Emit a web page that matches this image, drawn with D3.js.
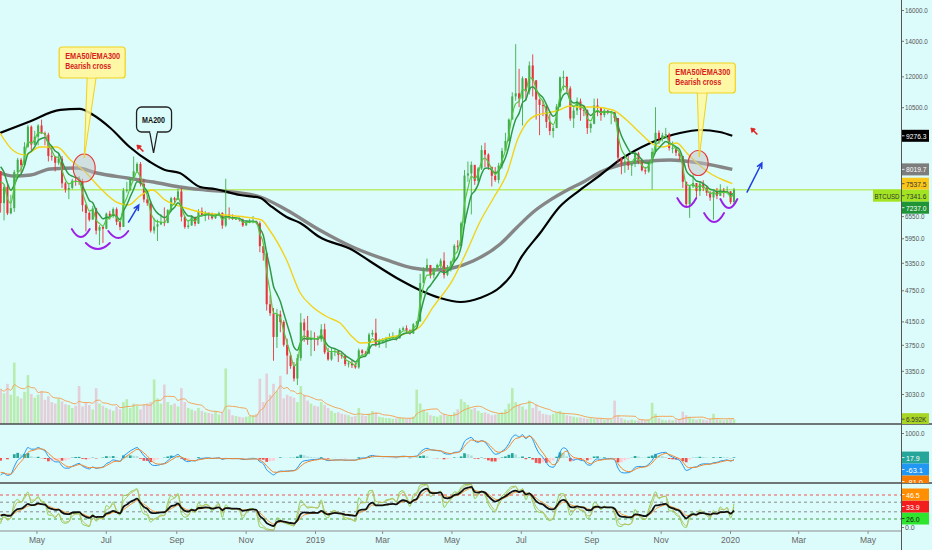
<!DOCTYPE html>
<html><head><meta charset="utf-8">
<script src="https://cdn.jsdelivr.net/npm/d3@7"></script>
<style>html,body{margin:0;padding:0;background:#dcfcfc;}svg{display:block;}</style>
</head><body>
<svg id="c" width="932" height="550"></svg>
<script>
// ---------------- DATA ----------------
const startDate = "2018-03-29";   // first 3-day candle
const stepDays = 3;
const firstOpen = 7960;
const closes = [6930,7430,6630,6780,7930,8360,8170,8850,9650,8930,9240,9700,9380,9320,8500,8470,8250,8400,7550,7350,
7400,7640,7630,7620,6870,6640,6450,6770,6150,6250,6200,6620,6550,6750,6390,6250,7320,7340,7720,7950,
8210,7530,7040,6930,6150,6260,6320,6380,6360,6720,7080,7030,7290,6530,6250,6290,6520,6340,6700,6580,
6650,6620,6490,6590,6640,6290,6590,6500,6470,6480,6450,6290,6360,6400,6400,6350,5750,5580,4470,4300,
3880,4280,4140,3750,3580,3420,3240,3540,4130,3990,3830,3860,3850,3840,4010,3630,3520,3630,3650,3590,
3570,3450,3460,3430,3400,3660,3620,3610,3920,3950,3750,3820,3820,3860,3870,3880,3860,4000,4030,3990,
3940,4100,4150,4900,5200,5300,5070,5220,5300,5400,5080,5220,5380,5760,5750,6350,7810,7880,8180,7630,
8050,8720,8550,8110,7800,7660,8150,8690,9070,9950,11000,11150,10900,11900,11250,12580,11800,10850,10600,10550,
9850,9470,9590,10530,11950,11970,11390,10000,10350,10770,10380,10360,9590,9770,10580,10480,10150,10350,10260,10280,
10020,8440,8210,8300,8150,8210,8590,8280,7990,7950,8230,8650,9400,9150,9300,9340,8800,8800,8620,8500,
7600,6900,7450,7560,7300,7540,7400,7250,7100,7280,7150,7320,7240,7290,6960,7341.6];
const highs = [7970,7500,7520,7180,8000,8430,8420,9020,9730,9700,9480,9750,9950,9450,9400,8880,8500,8590,8500,7600,
7550,7700,7760,7780,7700,6900,6670,6850,6790,6300,6270,6650,6700,6800,6800,6400,7400,7600,7750,8480,
8270,8280,7700,7150,7000,6500,6450,6600,6800,6750,7120,7120,7380,7400,6550,6420,6580,6540,6750,6800,
6700,6630,6650,6620,6680,6660,7700,6800,6600,6520,6510,6480,6420,6470,6550,6420,6400,5750,5600,4650,
4400,4380,4350,4170,3850,3620,3480,3600,4300,4200,4250,3990,3960,3900,4100,4110,3700,3700,3700,3630,
3620,3600,3490,3510,3470,3690,3680,3650,3950,4000,4200,3850,3860,3880,3940,3960,3900,4030,4060,4080,
4010,4120,4160,5100,5250,5450,5250,5240,5330,5450,5600,5300,5400,5800,5900,6400,8000,8300,8300,8100,
8100,8900,9000,8600,8100,8100,8250,8800,9400,10000,11200,13800,12400,12000,11900,12800,13200,11800,10900,10800,
10600,10200,9700,10650,12000,12300,12000,11500,10500,10950,10900,10600,10400,9830,10900,10900,10500,10450,10370,10330,
10240,10000,8350,8500,8500,8300,8650,8650,8400,8100,8300,8800,10500,9500,9400,9600,9400,9050,8830,8550,
8300,7600,7500,7850,7450,7620,7650,7450,7300,7300,7400,7520,7400,7450,7300,7400];
const lows = [6650,6430,6580,6600,6670,7750,7900,8150,8800,8700,8900,8900,9350,8900,8300,8330,7950,8170,7400,7250,
7050,7350,7470,7500,6680,6130,6400,6450,6050,5780,5830,6190,6450,6500,6300,6160,6250,7250,7300,7850,
7900,7450,6950,6850,6100,6070,5880,6300,6270,6350,6680,6900,7050,6400,6200,6200,6280,6270,6330,6550,
6410,6450,6450,6470,6550,6200,6250,6450,6440,6440,6400,6250,6280,6350,6350,6320,5600,5400,4350,4250,
3500,3700,3960,3720,3300,3380,3200,3150,3500,3800,3750,3570,3650,3740,3800,3600,3500,3500,3570,3480,
3530,3420,3400,3390,3380,3380,3580,3570,3600,3880,3720,3700,3780,3700,3840,3850,3820,3850,3980,3950,
3920,3930,4080,4150,4900,5150,5000,5000,5200,5230,5000,5050,5150,5350,5650,5750,6800,7600,6600,7500,
7550,8000,8100,8000,7450,7600,7550,8050,8900,9050,10000,10800,10500,9700,10800,11100,11000,9950,9300,10100,
9600,9300,9200,9900,10500,11300,11200,9900,9600,10150,9900,10100,9350,9400,9750,10100,9900,10050,10180,9750,
9860,8250,7850,7900,8000,7800,8100,8200,7950,7850,7900,7350,9000,8950,9050,9200,8700,8600,8500,8350,
7400,6800,6500,7400,7100,7150,7300,7150,7000,6450,7050,7150,7100,7200,6900,6900];
const volumes = [48,42,55,40,84,38,35,44,67,41, 36,40,45,33,38,30,28,35,31,27, 26,22,25,52,24,30,26,20,49,28,
25,22,20,18,24,20,30,34,22,28, 25,20,26,28,30,61,35,28,54,30, 26,28,24,49,30,22,20,18,22,18,
16,15,14,18,13,16,76,20,12,11, 10,9,10,11,12,14,62,30,69,40, 55,45,66,35,40,38,36,30,52,40,
32,28,25,24,30,26,22,18,15,16, 14,13,12,10,11,22,12,11,14,18, 16,10,9,8,8,7,8,9,8,7,
8,10,47,28,20,16,12,11,10,12, 13,11,12,16,20,34,30,26,20,22, 18,15,16,14,12,13,14,16,20,28,
49,30,26,24,20,32,22,27,18,14, 13,12,14,16,18,15,12,11,10,9, 9,8,7,8,7,8,7,6,7,6,
32,12,8,6,5,6,5,5,6,5, 6,29,14,8,6,5,6,5,6,7, 17,12,10,7,6,7,6,5,7,14, 7,6,5,6,7,6.592];
// closes before the visible range (indicator warm-up only, 3-day steps, Jan-Mar 2018)
const warmupCloses = [15000,17100,15000,13800,13600,11400,11600,11000,11500,10100,8850,6950,8200,8100,9500,
11100,11200,10000,10300,10950,11500,9900,8750,9150,8250,8600,8700,8450,7950];
// moving averages
const ma200Pts = [["2018-03-30",9389],["2018-04-24",9850],["2018-05-22",10375],["2018-06-08",10420],["2018-06-20",10150],
["2018-07-05",9596],["2018-07-22",8837],["2018-08-09",8280],["2018-08-22",7999],["2018-09-04",7895],["2018-09-22",7431],
["2018-10-05",7366],["2018-10-27",7177],["2018-11-14",7085],["2018-11-22",6872],["2018-12-07",6525],["2018-12-19",6357],
["2019-01-05",5983],["2019-02-03",5654],["2019-02-18",5392],["2019-03-17",4965],["2019-04-03",4755],["2019-04-21",4593],
["2019-05-09",4514],["2019-05-26",4593],["2019-06-13",4817],["2019-06-24",5119],["2019-06-30",5416],["2019-07-18",6088],
["2019-08-04",6815],["2019-08-22",7334],["2019-09-09",7827],["2019-09-26",8352],["2019-10-23",8991],["2019-11-18",9389],
["2019-12-06",9512],["2019-12-23",9430],["2020-01-03",9276.3]];
const ema300Pts = [["2018-03-30",7895],["2018-04-11",7793],["2018-04-26",7827],["2018-05-13",8034],["2018-06-06",8068],
["2018-06-23",7895],["2018-07-20",7726],["2018-08-12",7592],["2018-09-04",7431],["2018-09-27",7334],["2018-10-27",7240],
["2018-11-14",7115],["2018-12-07",6725],["2019-01-05",6167],["2019-02-03",5728],["2019-03-05",5416],["2019-03-28",5231],
["2019-04-15",5186],["2019-05-02",5231],["2019-05-20",5392],["2019-06-13",5805],["2019-06-28",6248],["2019-07-12",6667],
["2019-07-27",7025],["2019-08-11",7334],["2019-08-25",7592],["2019-09-09",7930],["2019-09-26",8174],["2019-10-23",8317],
["2019-11-09",8352],["2019-12-06",8245],["2020-01-03",8019.7]];
const ema50Pts = [["2018-03-30",9389],["2018-04-10",8723],["2018-04-21",8536],["2018-05-04",8837],["2018-05-19",8837],
["2018-05-31",8352],["2018-06-13",7930],["2018-06-26",7398],["2018-07-12",6933],["2018-07-21",6872],["2018-07-31",7146],
["2018-08-11",7334],["2018-08-22",7025],["2018-09-09",6784],["2018-09-26",6638],["2018-10-14",6581],["2018-10-31",6525],
["2018-11-15",6440],["2018-11-22",6167],["2018-12-07",5416],["2018-12-19",4694],["2018-12-30",4418],["2019-01-12",4230],
["2019-01-23",4121],["2019-02-03",3879],["2019-02-10",3779],["2019-02-21",3795],["2019-03-05",3862],["2019-03-23",3946],
["2019-04-03",4051],["2019-04-15",4418],["2019-05-02",4965],["2019-05-15",5654],["2019-05-26",6384],["2019-06-07",7085],
["2019-06-19",7895],["2019-06-28",9109],["2019-07-06",9805],["2019-07-15",10150],["2019-07-24",10240],["2019-08-04",10375],
["2019-08-13",10555],["2019-08-22",10510],["2019-09-03",10510],["2019-09-20",10375],["2019-10-02",9933],["2019-10-14",9389],
["2019-10-25",8952],["2019-11-03",8837],["2019-11-15",8990],["2019-11-24",8610],["2019-12-03",8245],["2019-12-14",7895],
["2019-12-26",7659],["2020-01-03",7537.5]];
const priceTicks = [16000,14000,12000,10500,6550,5950,5350,4750,4150,3750,3350,3030];
const monthTicks = [["2018-05-01","May"],["2018-07-01","Jul"],["2018-09-01","Sep"],["2018-11-01","Nov"],["2019-01-01","2019"],
["2019-03-01","Mar"],["2019-05-01","May"],["2019-07-01","Jul"],["2019-09-01","Sep"],["2019-11-01","Nov"],["2020-01-01","2020"],
["2020-03-01","Mar"],["2020-05-01","May"]];
const priceTags = [{v:9276.3,label:"9276.3",bg:"#000000",fg:"#ffffff"},{v:8019.7,label:"8019.7",bg:"#7d7d7d",fg:"#ffffff"},
{v:7537.5,label:"7537.5",bg:"#f9c61a",fg:"#333333"},{v:7341.6,label:"7341.6",bg:"#a3e422",fg:"#333333"},
{v:7237.0,label:"7237.0",bg:"#1f9437",fg:"#ffffff"}];
const volumeTags = [{v:6.592,label:"6.592K",bg:"#a9d624",fg:"#333333"}];
const macdTags = [{v:17.9,label:"17.9",bg:"#26a69a",fg:"#ffffff"},{v:-63.1,label:"-63.1",bg:"#2196f3",fg:"#ffffff"},
{v:-81.0,label:"-81.0",bg:"#f57c00",fg:"#ffffff"}];
const rsiTags = [{v:46.5,label:"46.5",bg:"#ff8f00",fg:"#ffffff"},{v:33.9,label:"33.9",bg:"#f21d1d",fg:"#ffffff"},
{v:26.0,label:"26.0",bg:"#2ee52e",fg:"#1a1a1a"}];
const rsiLevels = [{v:75,c:"#ef5350"},{v:60,c:"#8a8a8a"},{v:40,c:"#8a8a8a"},{v:25,c:"#43a047"}];
const lastPrice = 7341.6;
// annotations (anchored by date / price)
const callouts = [
 {date:"2018-06-12",price:8426,cDate:"2018-06-12",cPrice:8068,rx:11,ry:14,box:[-25,-111,66,31],base:[3,12],lines:["EMA50/EMA300","Bearish cross"]},
 {date:"2019-12-05",price:8462,cDate:"2019-12-04",cPrice:8245,rx:10,ry:12.5,box:[-30,-94,66,30],base:[-2,8],lines:["EMA50/EMA300","Bearish cross"]}];
const maLabel = {date:"2018-08-12",price:8610,box:[-17,-46,35,25],text:"MA200"};
const flags = [["2018-07-31",8799],["2020-01-22",9471]];
const arrows = [["2018-07-21",6384,"2018-07-30",6872],["2020-01-16",7270,"2020-01-29",8245]];
const arcs = [["2018-06-09",6194,9,8],["2018-06-24",5829,12,6],["2018-07-12",6141,10,7],
 ["2019-11-24",7085,9.5,9],["2019-12-18",6638,10,9],["2019-12-31",7054,8.5,9]];

// ---------------- SETUP ----------------
const FONT = "'Liberation Sans', Arial, sans-serif";
const W=932,H=550,AX=901, MAIN_B=424, MACD_B=483, RSI_B=531;
const BG="#dcfcfc", UP="#43ad4b", DN="#e8333a";
const parse = d3.utcParse("%Y-%m-%d");
const x = d3.scaleUtc().domain([parse("2019-01-01"),parse("2020-01-01")]).range([315,730]);
const yP = d3.scaleLog().domain([3030,16000]).range([394,10]);
const yV = d3.scaleLinear().domain([0,115]).range([MAIN_B,340]);
const yM = d3.scaleLinear().domain([0,1000]).range([458,433]);
const yR = d3.scaleLinear().domain([0,100]).range([RSI_B,483]);
const DAY = 86400000;
const t0 = parse(startDate);
const candles = closes.map((c,i)=>({t:new Date(t0.getTime()+(i*stepDays+1.5)*DAY), o:i?closes[i-1]:firstOpen, h:highs[i], l:lows[i], c, v:volumes[i]}));
const slot = x(new Date(t0.getTime()+stepDays*DAY)) - x(t0);

function ema(arr,n){const k=2/(n+1);let e=arr[0];return arr.map((v,i)=>i?(e=v*k+e*(1-k)):e);}
function rsi(arr,n){let ag=0,al=0;const out=[50];
 for(let i=1;i<arr.length;i++){const d=arr[i]-arr[i-1],g=Math.max(d,0),l=Math.max(-d,0);
  if(i<=n){ag+=g/n;al+=l/n;}else{ag=(ag*(n-1)+g)/n;al=(al*(n-1)+l)/n;}
  out.push(al===0?100:100-100/(1+ag/al));}
 return out;}
function sma(arr,n){return arr.map((v,i)=>d3.mean(arr.slice(Math.max(0,i-n+1),i+1)));}
const all = warmupCloses.concat(closes), W0 = warmupCloses.length;
const cut = a => a.slice(W0);
const emaFast = cut(ema(all,3)), emaMid = cut(ema(all,6));
const e4 = ema(all,4), e9 = ema(all,9);
const macdAll = e4.map((v,i)=>v-e9[i]);
const sigAll = ema(macdAll,3);
const macd = cut(macdAll), signal = cut(sigAll), hist = macd.map((v,i)=>v-signal[i]);
const rMainAll = ema(rsi(all,9),2);
const rsiMain = cut(rMainAll), rsiOr = cut(ema(rMainAll,3));
const rFastAll = rsi(all,4);
const rsiFast = cut(rFastAll), rsiFast2 = cut(ema(rFastAll,2));
const volMA = sma(volumes,7);

const svg = d3.select("#c").style("font-family",FONT);
svg.append("rect").attr("width",W).attr("height",H).attr("fill",BG);
const defs = svg.append("defs");
function clip(id,x0,y0,w,h){defs.append("clipPath").attr("id",id).append("rect").attr("x",x0).attr("y",y0).attr("width",w).attr("height",h);}
clip("cMain",0,0,AX,MAIN_B); clip("cMacd",0,MAIN_B,AX,MACD_B-MAIN_B); clip("cRsi",0,MACD_B,AX,RSI_B-MACD_B);
clip("tMain",AX,0,W-AX,MAIN_B); clip("tMacd",AX,MAIN_B,W-AX,MACD_B-MAIN_B); clip("tRsi",AX,MACD_B,W-AX,RSI_B-MACD_B+4);

// ---------------- MAIN PANEL ----------------
const gM = svg.append("g").attr("clip-path","url(#cMain)");
gM.selectAll(".vol").data(candles).join("rect").attr("x",d=>x(d.t)-slot*0.38).attr("width",slot*0.76)
 .attr("y",d=>yV(d.v)).attr("height",d=>yV(0)-yV(d.v))
 .attr("fill",d=>d.c>=d.o?"rgba(150,222,100,0.5)":"rgba(238,150,170,0.45)");
gM.append("path").datum(candles.map((d,i)=>[x(d.t),yV(volMA[i])])).attr("d",d3.line().curve(d3.curveMonotoneX))
 .attr("fill","none").attr("stroke","#f2a65a").attr("stroke-width",1);
gM.append("line").attr("x1",0).attr("x2",AX).attr("y1",yP(lastPrice)).attr("y2",yP(lastPrice)).attr("stroke","#b8ec6c").attr("stroke-width",1.3);
const maLine = d3.line().x(d=>x(parse(d[0]))).y(d=>yP(d[1])).curve(d3.curveMonotoneX);
gM.append("path").attr("d",maLine(ema300Pts)).attr("fill","none").attr("stroke","#868686").attr("stroke-width",3.4);
gM.append("path").attr("d",maLine(ma200Pts)).attr("fill","none").attr("stroke","#000").attr("stroke-width",2.2);
gM.selectAll(".wick").data(candles).join("line").attr("x1",d=>x(d.t)).attr("x2",d=>x(d.t))
 .attr("y1",d=>yP(d.h)).attr("y2",d=>yP(d.l)).attr("stroke",d=>d.c>=d.o?UP:DN).attr("stroke-width",0.9);
gM.selectAll(".body").data(candles).join("rect").attr("x",d=>x(d.t)-slot*0.3).attr("width",slot*0.6)
 .attr("y",d=>yP(Math.max(d.o,d.c))).attr("height",d=>Math.max(1,Math.abs(yP(d.o)-yP(d.c))))
 .attr("fill",d=>d.c>=d.o?UP:DN);
gM.append("path").attr("d",maLine(ema50Pts)).attr("fill","none").attr("stroke","#f3d21a").attr("stroke-width",1.4);
const cl = arr => d3.line().x((d,i)=>x(candles[i].t)).y(d=>yP(d)).curve(d3.curveMonotoneX)(arr);
gM.append("path").attr("d",cl(emaMid)).attr("fill","none").attr("stroke","#2f9a45").attr("stroke-width",1.5);
gM.append("path").attr("d",cl(emaFast)).attr("fill","none").attr("stroke","#55c63f").attr("stroke-width",1.2);

// annotations
const gA = svg.append("g").attr("clip-path","url(#cMain)");
callouts.forEach(c=>{
 const tx=x(parse(c.date)), ty=yP(c.price), cx=x(parse(c.cDate)), cy=yP(c.cPrice);
 const [bx,by,bw,bh]=c.box;
 gA.append("ellipse").attr("cx",cx).attr("cy",cy).attr("rx",c.rx).attr("ry",c.ry)
  .attr("fill","rgba(195,195,195,0.5)").attr("stroke","#e53935").attr("stroke-width",1.1);
 gA.append("path").attr("d",`M${tx+c.base[0]},${ty+by+bh-1} L${tx},${ty} L${tx+c.base[1]},${ty+by+bh-1}`)
  .attr("fill","rgba(255,249,160,0.85)").attr("stroke","#f2d21b").attr("stroke-width",1);
 gA.append("rect").attr("x",tx+bx).attr("y",ty+by).attr("width",bw).attr("height",bh).attr("rx",3)
  .attr("fill","#fdf7a6").attr("stroke","#f2d21b").attr("stroke-width",1.2);
 gA.append("path").attr("d",`M${tx+c.base[0]+0.6},${ty+by+bh-1.5} L${tx+c.base[1]-0.6},${ty+by+bh-1.5}`).attr("stroke","#fdf7a6").attr("stroke-width",2);
 c.lines.forEach((s,i)=>gA.append("text").attr("x",tx+bx+6).attr("y",ty+by+12.3+i*9.3).text(s)
  .attr("font-size",8.6).attr("font-weight","bold").attr("fill","#d81b1b")
  .attr("textLength",i?46:55).attr("lengthAdjust","spacingAndGlyphs"));
});
{
 const tx=x(parse(maLabel.date)), ty=yP(maLabel.price), [bx,by,bw,bh]=maLabel.box;
 gA.append("path").attr("d",`M${tx-4},${ty+by+bh-1} L${tx},${ty} L${tx+4},${ty+by+bh-1}`).attr("fill",BG).attr("stroke","#222").attr("stroke-width",1.3);
 gA.append("rect").attr("x",tx+bx).attr("y",ty+by).attr("width",bw).attr("height",bh).attr("rx",5).attr("fill",BG).attr("stroke","#222").attr("stroke-width",1.3);
 gA.append("path").attr("d",`M${tx-3.3},${ty+by+bh} L${tx+3.3},${ty+by+bh}`).attr("stroke",BG).attr("stroke-width",2);
 gA.append("text").attr("x",tx).attr("y",ty+by+16).attr("text-anchor","middle").text(maLabel.text)
  .attr("font-size",9.6).attr("font-weight","bold").attr("fill","#111").attr("textLength",23).attr("lengthAdjust","spacingAndGlyphs");
}
flags.forEach(f=>{
 const fx=x(parse(f[0])), fy=yP(f[1]);
 const g=gA.append("g").attr("transform",`translate(${fx-3},${fy-3})`);
 g.append("line").attr("x1",2).attr("y1",2).attr("x2",6.5).attr("y2",6.5).attr("stroke","#e0201c").attr("stroke-width",1.6);
 g.append("path").attr("d","M0,0 L4.5,1 L1,4.5 Z").attr("fill","#e0201c").attr("stroke","#e0201c").attr("stroke-width",0.8);
});
arrows.forEach(a=>{
 const x1=x(parse(a[0])),y1=yP(a[1]),x2=x(parse(a[2])),y2=yP(a[3]);
 const ang=Math.atan2(y2-y1,x2-x1), L=5.5;
 const p1=[x2-L*Math.cos(ang-0.45),y2-L*Math.sin(ang-0.45)], p2=[x2-L*Math.cos(ang+0.45),y2-L*Math.sin(ang+0.45)];
 gA.append("path").attr("d",`M${x1},${y1} L${x2},${y2} M${p1} L${x2},${y2} L${p2}`).attr("fill","none")
  .attr("stroke","#1f3fe0").attr("stroke-width",1.5).attr("stroke-linecap","round");
});
arcs.forEach(a=>{
 const cx=x(parse(a[0])),cy=yP(a[1]),hw=a[2],dp=a[3];
 gA.append("path").attr("d",`M${cx-hw},${cy} Q${cx},${cy+2*dp} ${cx+hw},${cy}`).attr("fill","none")
  .attr("stroke","#9b1fe6").attr("stroke-width",1.9).attr("stroke-linecap","round");
});

// ---------------- MACD PANEL ----------------
const gD = svg.append("g").attr("clip-path","url(#cMacd)");
gD.selectAll("rect").data(candles).join("rect").attr("x",d=>x(d.t)-slot*0.4).attr("width",slot*0.8)
 .attr("y",(d,i)=>Math.min(yM(hist[i]),yM(0))).attr("height",(d,i)=>Math.abs(yM(hist[i])-yM(0)))
 .attr("fill",(d,i)=>{const h=hist[i],p=i?hist[i-1]:0;return h>=0?(h>=p?"#26a69a":"#b2dfdb"):(h<p?"#ef5350":"#ffcdd2");});
const ml = arr => d3.line().x((d,i)=>x(candles[i].t)).y(d=>yM(d)).curve(d3.curveMonotoneX)(arr);
gD.append("path").attr("d",ml(macd)).attr("fill","none").attr("stroke","#2196f3").attr("stroke-width",1);
gD.append("path").attr("d",ml(signal)).attr("fill","none").attr("stroke","#f5862a").attr("stroke-width",1);

// ---------------- RSI PANEL ----------------
const gR = svg.append("g").attr("clip-path","url(#cRsi)");
rsiLevels.forEach(l=>gR.append("line").attr("x1",0).attr("x2",AX).attr("y1",yR(l.v)).attr("y2",yR(l.v))
 .attr("stroke",l.c).attr("stroke-width",1).attr("stroke-dasharray","3,3"));
const rl = arr => d3.line().x((d,i)=>x(candles[i].t)).y(d=>yR(d)).curve(d3.curveMonotoneX)(arr);
gR.append("path").attr("d",rl(rsiFast)).attr("fill","none").attr("stroke","#8fcf52").attr("stroke-width",1);
gR.append("path").attr("d",rl(rsiFast2)).attr("fill","none").attr("stroke","#c2be62").attr("stroke-width",1);
gR.append("path").attr("d",rl(rsiOr)).attr("fill","none").attr("stroke","#f59a3c").attr("stroke-width",1);
gR.append("path").attr("d",rl(rsiMain)).attr("fill","none").attr("stroke","#111").attr("stroke-width",1.8);

// ---------------- AXES ----------------
svg.append("line").attr("x1",0).attr("x2",AX).attr("y1",RSI_B).attr("y2",RSI_B).attr("stroke","#8c8c8c").attr("stroke-width",1);
const xa = svg.append("g").attr("transform",`translate(0,${RSI_B})`)
 .call(d3.axisBottom(x).tickValues(monthTicks.map(d=>parse(d[0]))).tickFormat((d,i)=>monthTicks[i][1]).tickSize(3).tickPadding(3));
xa.select(".domain").remove();
xa.selectAll("line").attr("stroke","#8c8c8c");
xa.selectAll("text").attr("fill","#666").attr("font-size",8.5).attr("font-family",FONT);

function fitText(sel,per){sel.each(function(){const n=this.textContent.length;d3.select(this).attr("textLength",n*per).attr("lengthAdjust","spacingAndGlyphs");});}
function rightAxis(scale,vals,fmt,clipId){
 const outer=svg.append("g").attr("clip-path",`url(#${clipId})`);
 const g=outer.append("g").attr("transform",`translate(${AX},0)`);
 g.call(d3.axisRight(scale).tickValues(vals).tickFormat(fmt).tickSize(3).tickPadding(1));
 g.select(".domain").remove();
 g.selectAll("line").attr("stroke","#777");
 g.selectAll("text").attr("fill","#555").attr("font-size",7.3).attr("font-family",FONT);
 fitText(g.selectAll("text"),3.25);
 return g;
}
const f1 = d3.format(".1f");
rightAxis(yP,priceTicks,f1,"tMain");
rightAxis(yM,[1000],f1,"tMacd");
rightAxis(d3.scaleLinear().domain([0,100]).range([RSI_B-4,479]),[0],f1,"tRsi");

[MAIN_B,MACD_B].forEach(y=>svg.append("line").attr("x1",0).attr("x2",W).attr("y1",y).attr("y2",y).attr("stroke","#4a4a4a").attr("stroke-width",1.3));
svg.append("line").attr("x1",AX+0.5).attr("x2",AX+0.5).attr("y1",0).attr("y2",H).attr("stroke","#555").attr("stroke-width",1);

// ---------------- LAST VALUE TAGS ----------------
function placeTags(tags,scale,h,dir){
 const it=tags.map(t=>Object.assign({},t,{y:scale(t.v)}));
 if(dir>0){it.sort((a,b)=>a.y-b.y);for(let i=1;i<it.length;i++)if(it[i].y<it[i-1].y+h)it[i].y=it[i-1].y+h;}
 else{it.sort((a,b)=>b.y-a.y);for(let i=1;i<it.length;i++)if(it[i].y>it[i-1].y-h)it[i].y=it[i-1].y-h;}
 return it;
}
function drawTags(items,clipId){
 const g=svg.append("g").attr("clip-path",`url(#${clipId})`);
 items.forEach(t=>{
  g.append("rect").attr("x",AX+1).attr("y",t.y-6).attr("width",27).attr("height",12).attr("fill",t.bg);
  g.append("line").attr("x1",AX+1).attr("x2",AX+3.5).attr("y1",t.y).attr("y2",t.y).attr("stroke",t.fg).attr("stroke-width",0.8);
  const tt=g.append("text").attr("x",AX+5).attr("y",t.y+3).text(t.label).attr("font-size",8).attr("fill",t.fg);
  fitText(tt,3.4);
 });
 return items;
}
const pt = drawTags(placeTags(priceTags,yP,12,1),"tMain");
drawTags(placeTags(volumeTags,yV,12,1),"tMain");
drawTags(placeTags(macdTags,yM,12,1),"tMacd");
drawTags(placeTags(rsiTags,yR,12,-1),"tRsi");
const lp = pt.find(t=>t.v===lastPrice);
svg.append("rect").attr("x",AX-28).attr("y",lp.y-6).attr("width",28).attr("height",12).attr("fill","#a3e422");
svg.append("text").attr("x",AX-14).attr("y",lp.y+3).attr("text-anchor","middle").text("BTCUSD").attr("font-size",8)
 .attr("fill","#333").attr("textLength",25).attr("lengthAdjust","spacingAndGlyphs");
</script>
</body></html>
